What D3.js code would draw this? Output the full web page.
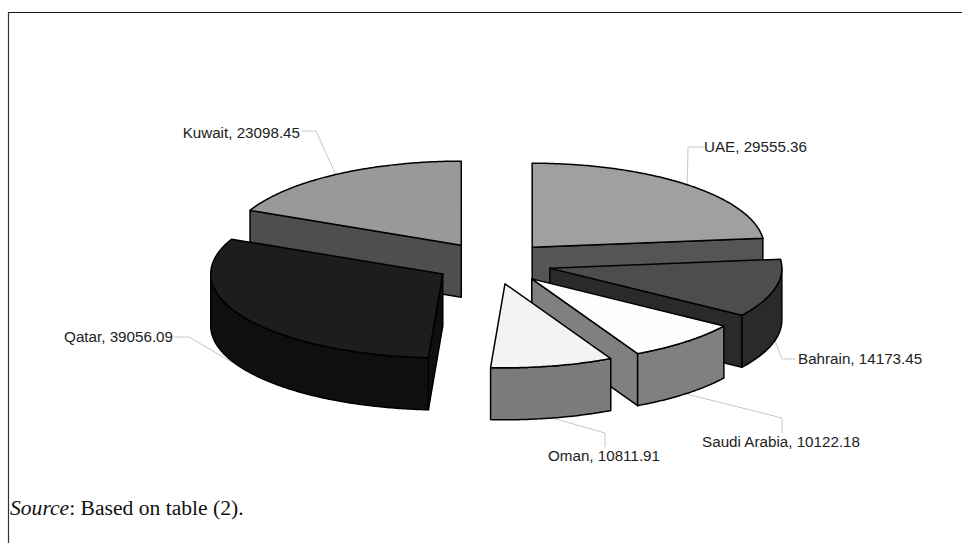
<!DOCTYPE html>
<html>
<head>
<meta charset="utf-8">
<style>
  html, body { margin: 0; padding: 0; background: #fff; }
  svg { display: block; }
  text { font-family: "Liberation Sans", Arial, sans-serif; }
</style>
<script src="https://cdn.jsdelivr.net/npm/d3@7/dist/d3.min.js"></script>
</head>
<body>
<svg id="chart" width="962" height="543"></svg>
<script>
// Per-country values, clockwise from twelve o'clock
const countries = ["UAE", "Bahrain", "Saudi Arabia", "Oman", "Qatar", "Kuwait"];
const values = [29555.36, 14173.45, 10122.18, 10811.91, 39056.09, 23098.45];
const topColors = ["#a0a0a0", "#4d4d4d", "#fdfdfd", "#f3f3f3", "#1d1d1d", "#999999"];
const sideColors = ["#555555", "#2a2a2a", "#808080", "#7b7b7b", "#0f0f0f", "#4e4e4e"];

// Elbow and end of each leader line, and the label anchor beside it
const leaderElbows = [[688, 147], [782, 359], [782, 418], [605, 433], [189, 337], [316, 131]];
const leaderEnds = [[704, 147], [795, 359], [782, 433], [605, 447], [174, 337], [302, 131]];
const labelAnchors = [
  [704, 152, "start"], [798, 364, "start"], [860, 447, "end"],
  [604, 461, "middle"], [173, 342, "end"], [300, 138, "end"]
];

const svg = d3.select("#chart");
const width = 962, height = 543;

// Unit-circle coordinates projected on to the tilted ellipse of the pie
const x = d3.scaleLinear().domain([-1, 1]).range([493 - 232, 493 + 232]);
const y = d3.scaleLinear().domain([-1, 1]).range([263 - 84, 263 + 84]);
const explode = 0.2526;
const depth = 52;

const arcs = d3.pie().sort(null).value(d => d)(values);

const unit = a => [Math.sin(a), -Math.cos(a)];
const slices = arcs.map((d, i) => {
  const mid = (d.startAngle + d.endAngle) / 2;
  const [mx, my] = unit(mid);
  return {
    i,
    a0: d.startAngle,
    a1: d.endAngle,
    mid,
    ox: explode * mx,
    oy: explode * my
  };
});

const px = (s, a, drop = 0) => {
  const [ux, uy] = unit(a);
  return [x(s.ox + ux), y(s.oy + uy) + drop];
};
const apex = (s, drop = 0) => [x(s.ox), y(s.oy) + drop];

// Rim traced through the ellipse between two angles, as straight path steps
function rim(ctx, s, from, to, drop) {
  const steps = Math.max(2, Math.ceil(Math.abs(to - from) / 0.01));
  for (let k = 0; k <= steps; k++) {
    const p = px(s, from + (to - from) * k / steps, drop);
    ctx.lineTo(p[0], p[1]);
  }
}

function topPath(s) {
  const ctx = d3.path();
  const c = apex(s);
  ctx.moveTo(c[0], c[1]);
  rim(ctx, s, s.a0, s.a1, 0);
  ctx.closePath();
  return ctx.toString();
}

function wallPath(s, a) {
  const ctx = d3.path();
  const c = apex(s), c2 = apex(s, depth), p = px(s, a), p2 = px(s, a, depth);
  ctx.moveTo(c[0], c[1]);
  ctx.lineTo(p[0], p[1]);
  ctx.lineTo(p2[0], p2[1]);
  ctx.lineTo(c2[0], c2[1]);
  ctx.closePath();
  return ctx.toString();
}

function outerPath(s, from, to) {
  const ctx = d3.path();
  const p = px(s, from);
  ctx.moveTo(p[0], p[1]);
  rim(ctx, s, from, to, 0);
  rim(ctx, s, to, from, depth);
  ctx.closePath();
  return ctx.toString();
}

// Frame lines along the top and left of the figure
svg.append("line").attr("x1", 8).attr("x2", width).attr("y1", 12.5).attr("y2", 12.5)
  .attr("stroke", "#1a1a1a").attr("stroke-width", 1.2);
svg.append("line").attr("x1", 8.5).attr("x2", 8.5).attr("y1", 12).attr("y2", height)
  .attr("stroke", "#333").attr("stroke-width", 1.2);

// Leader lines run underneath the slices, towards each slice's mid-angle on the rim
const leaders = svg.append("g").attr("fill", "none").attr("stroke", "#c8c8c8").attr("stroke-width", 1);
slices.forEach(s => {
  const onFront = Math.cos(s.mid) < 0;
  const anchor = px(s, s.mid, onFront ? depth : 0);
  leaders.append("path").attr("d", d3.line()([anchor, leaderElbows[s.i], leaderEnds[s.i]]));
});

// Paint back to front: slices sitting higher on the page go first
const order = slices.slice().sort((a, b) => a.oy - b.oy);
const pieG = svg.append("g")
  .attr("stroke", "#000").attr("stroke-width", 1.5).attr("stroke-linejoin", "round");

const PI = Math.PI;
order.forEach(s => {
  const side = sideColors[s.i];
  // A cut face shows only when its outward normal tips towards the viewer
  if (Math.sin(s.a1) > 0.001) pieG.append("path").attr("d", wallPath(s, s.a1)).attr("fill", side);
  if (Math.sin(s.a0) < -0.001) pieG.append("path").attr("d", wallPath(s, s.a0)).attr("fill", side);
  // Outer skin is visible over the front half of the ellipse
  const from = Math.max(s.a0, PI / 2), to = Math.min(s.a1, 3 * PI / 2);
  if (to > from) pieG.append("path").attr("d", outerPath(s, from, to)).attr("fill", side);
  pieG.append("path").attr("d", topPath(s)).attr("fill", topColors[s.i]);
});

// Country and value labels
svg.append("g").selectAll("text").data(slices).join("text")
  .attr("x", s => labelAnchors[s.i][0])
  .attr("y", s => labelAnchors[s.i][1])
  .attr("text-anchor", s => labelAnchors[s.i][2])
  .attr("font-size", 15.2)
  .attr("fill", "#222")
  .text(s => `${countries[s.i]}, ${values[s.i].toFixed(2)}`);

// Source note
const note = svg.append("text").attr("x", 10).attr("y", 515)
  .attr("font-size", 21.6).attr("fill", "#111")
  .style("font-family", '"Liberation Serif", "Times New Roman", serif');
note.append("tspan").attr("font-style", "italic").text("Source");
note.append("tspan").text(": Based on table (2).");
</script>
</body>
</html>
